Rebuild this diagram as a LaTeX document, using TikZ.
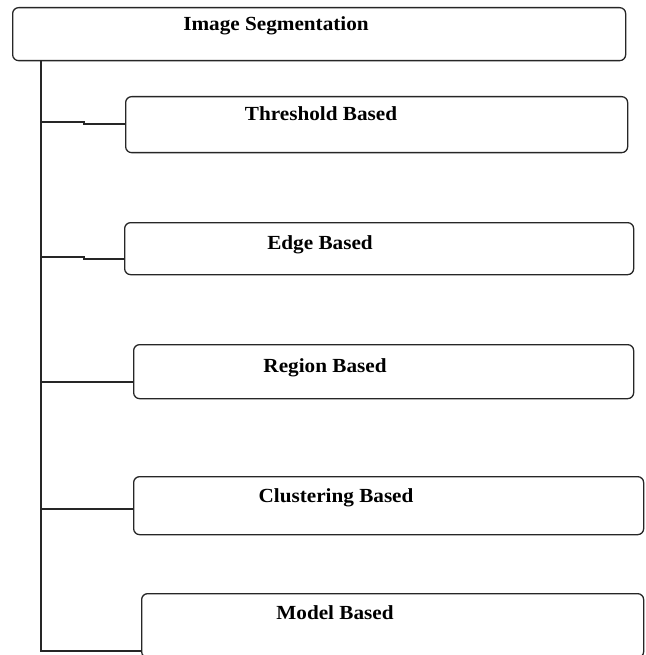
\documentclass[tikz,border=0pt]{standalone}
\usepackage{fontspec}
\newfontfamily\lblfont[FakeStretch=1.06]{Liberation Serif}
\begin{document}
\begin{tikzpicture}[x=1pt,y=-1pt,
  boxstyle/.style={draw=black!85, line width=1.3pt, rounded corners=6pt, inner sep=0pt, anchor=north west},
  lbl/.style={anchor=base, inner sep=0pt, font=\lblfont\bfseries\fontsize{20}{24}\selectfont},
  conn/.style={draw=black!85, line width=1.3pt}]
\useasboundingbox (0,0) rectangle (645,655);
% boxes
\node[boxstyle, minimum width=613pt, minimum height=53pt] (top) at (12,7) {};
\node[boxstyle, minimum width=502pt, minimum height=56pt] (thr) at (125,96) {};
\node[boxstyle, minimum width=509pt, minimum height=52pt] (edge) at (124,222) {};
\node[boxstyle, minimum width=500pt, minimum height=54pt] (region) at (133,344) {};
\node[boxstyle, minimum width=510pt, minimum height=58pt] (clust) at (133,476) {};
\node[boxstyle, minimum width=502pt, minimum height=64pt] (model) at (141,593) {};
% labels
\node[lbl] (ltop) at (276,31) {Image Segmentation};
\node[lbl] (lthr) at (321,121) {Threshold Based};
\node[lbl] (ledge) at (320,249) {Edge Based};
\node[lbl] (lregion) at (325,372) {Region Based};
\node[lbl] (lclust) at (336,502) {Clustering Based};
\node[lbl] (lmodel) at (335,619) {Model Based};
% connector coordinates
\coordinate (tx) at (41,0);
\coordinate (j1a) at (84,122);
\coordinate (j1b) at (84,124);
\coordinate (j2a) at (84,257);
\coordinate (j2b) at (84,259);
\coordinate (c3) at (0,382);
\coordinate (c4) at (0,509);
\coordinate (c5) at (0,651);
% trunk
\draw[conn] (top.south -| tx) -- (tx |- c5) -- (model.west |- c5);
% branches
\draw[conn] (tx |- j1a) -- (j1a) -- (j1b) -- (thr.west |- j1b);
\draw[conn] (tx |- j2a) -- (j2a) -- (j2b) -- (edge.west |- j2b);
\draw[conn] (tx |- c3) -- (region.west |- c3);
\draw[conn] (tx |- c4) -- (clust.west |- c4);
\end{tikzpicture}
\end{document}
